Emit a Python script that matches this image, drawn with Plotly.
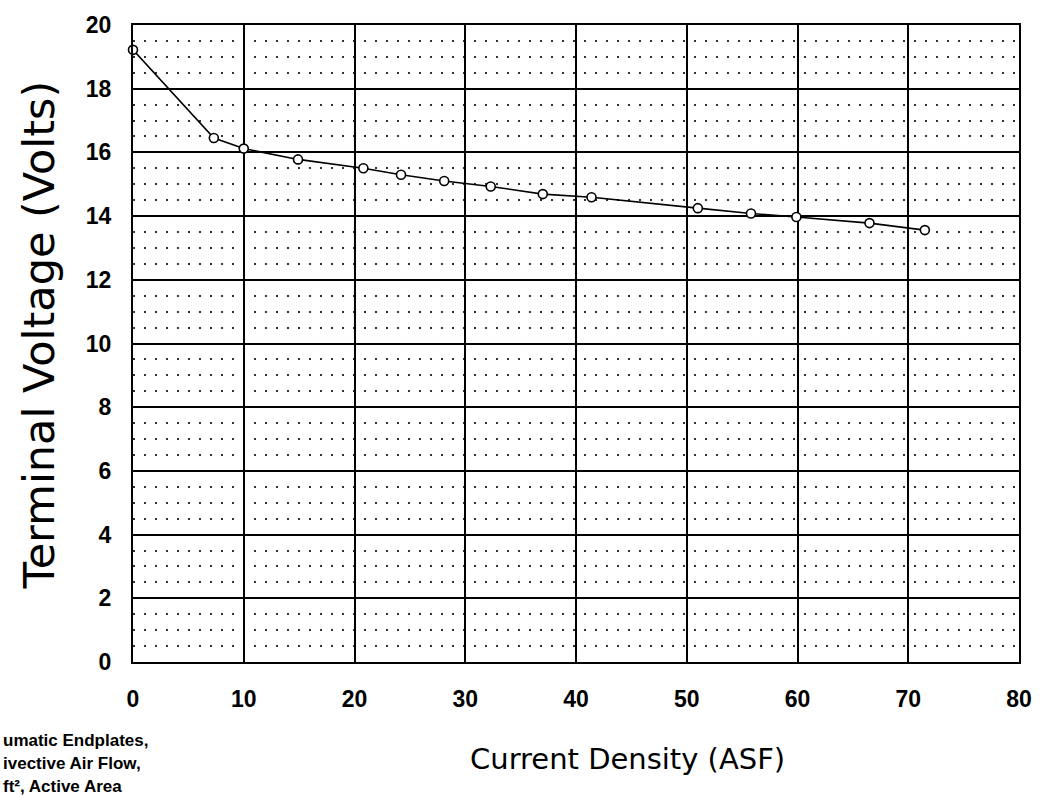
import plotly.graph_objects as go

# Data
current_density = [0, 7.3, 10.0, 14.9, 20.8, 24.2, 28.1, 32.3, 37.0, 41.4, 51.0, 55.8, 59.9, 66.5, 71.5]
terminal_voltage = [19.22, 16.45, 16.12, 15.78, 15.5, 15.3, 15.1, 14.93, 14.69, 14.59, 14.25, 14.08, 13.97, 13.78, 13.56]

x_ticks = [0, 10, 20, 30, 40, 50, 60, 70, 80]
y_ticks = [0, 2, 4, 6, 8, 10, 12, 14, 16, 18, 20]
note_lines = ["umatic Endplates,", "ivective Air Flow,", "ft², Active Area"]

FONT = "Liberation Sans, Arial, sans-serif"
TFONT = "DejaVu Sans, sans-serif"

fig = go.Figure()
fig.add_trace(go.Scatter(
    x=current_density, y=terminal_voltage, mode="lines+markers",
    line=dict(color="black", width=1.6),
    marker=dict(symbol="circle", size=9, color="white",
                line=dict(color="black", width=1.6)),
    showlegend=False, cliponaxis=False,
))

fig.update_layout(
    width=1044, height=799,
    margin=dict(l=133, r=17, t=19, b=137),
    paper_bgcolor="white", plot_bgcolor="white",
    font=dict(family=FONT, color="black"),
)
fig.update_xaxes(
    range=[0, 80], tickvals=x_ticks, ticks="", ticklabelstandoff=15,
    tickfont=dict(family=FONT, size=23, weight="bold"),
    showgrid=True, gridcolor="black", gridwidth=1.5,
    showline=True, linecolor="black", linewidth=2, mirror=True, zeroline=False,
)
fig.update_yaxes(
    range=[0, 20], tickvals=y_ticks, ticks="", ticklabelstandoff=15,
    tickfont=dict(family=FONT, size=23, weight="bold"),
    showgrid=True, gridcolor="black", gridwidth=1.5,
    minor=dict(dtick=0.5, showgrid=True, gridcolor="#333333",
               gridwidth=1.5, griddash="1.5px,9.5px"),
    showline=True, linecolor="black", linewidth=2, mirror=True, zeroline=False,
)

fig.add_annotation(text="Terminal Voltage (Volts)", xref="paper", yref="paper",
                   x=-0.106, y=0.513, xanchor="center", yanchor="middle",
                   textangle=-90, showarrow=False,
                   font=dict(family=TFONT, size=43, color="black"))
fig.add_annotation(text="Current Density (ASF)", xref="paper", yref="paper",
                   x=0.558, y=-0.152, xanchor="center", yanchor="middle",
                   showarrow=False,
                   font=dict(family=TFONT, size=29, color="black"))
for i, line in enumerate(note_lines):
    fig.add_annotation(text=line, xref="paper", yref="paper",
                       x=-0.149, y=-0.123 - i * 0.0363, xanchor="left", yanchor="middle",
                       showarrow=False,
                       font=dict(family=FONT, size=17, color="black", weight="bold"))

fig.write_html("out.html")
